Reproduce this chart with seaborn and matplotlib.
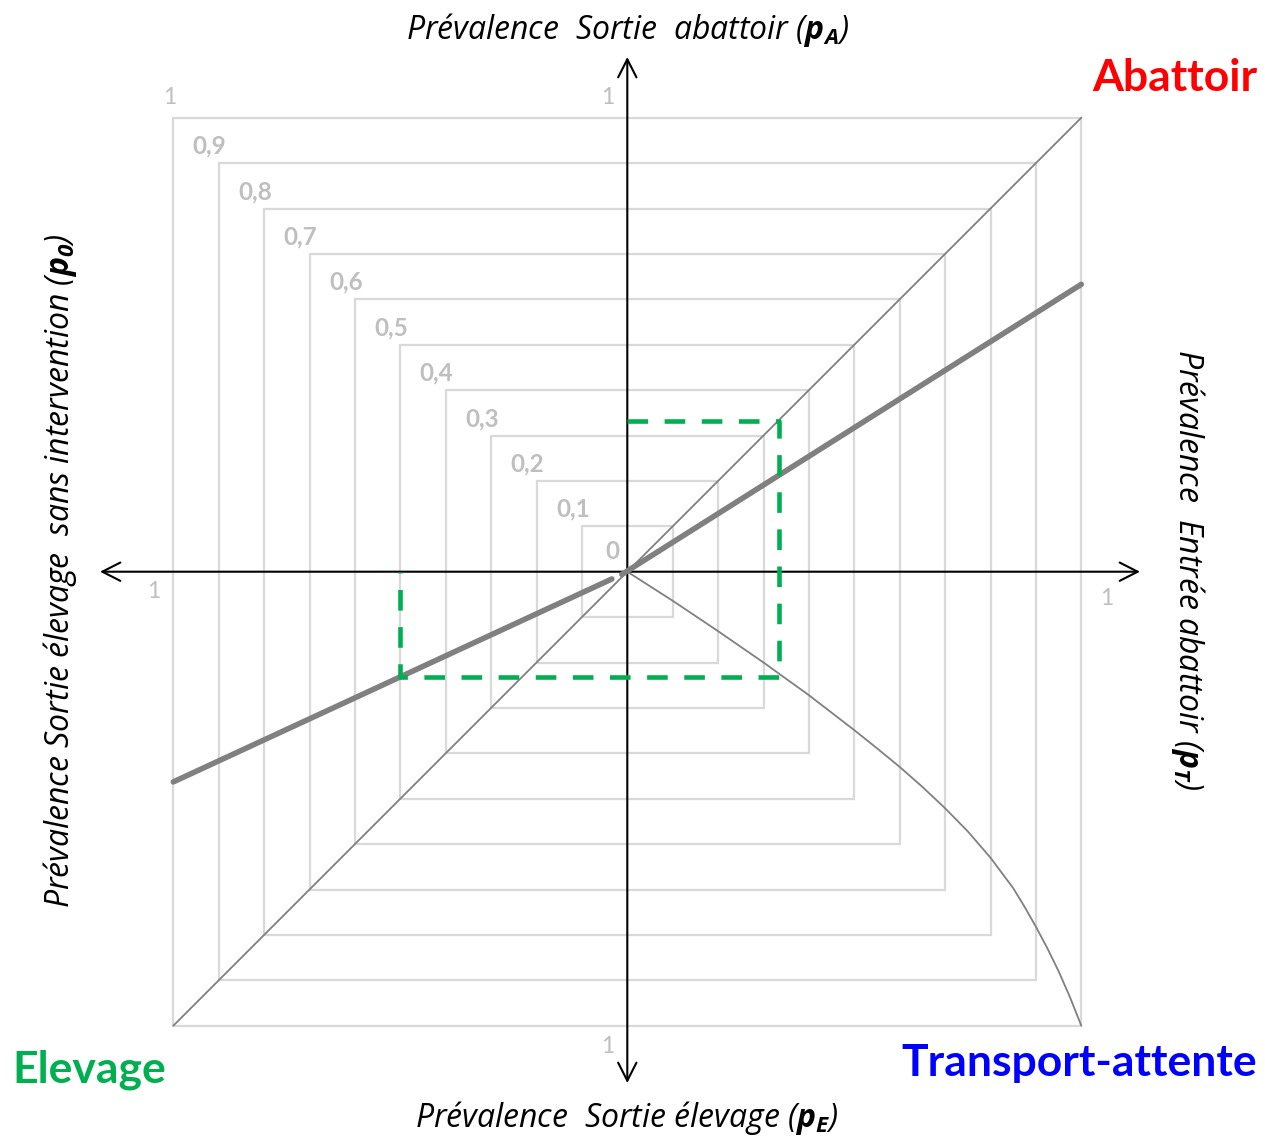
import matplotlib
matplotlib.use("Agg")
import matplotlib.pyplot as plt
import seaborn as sns
import numpy as np
import pandas as pd

# ---------------- data ----------------
levels = [0.1, 0.2, 0.3, 0.4, 0.5, 0.6, 0.7, 0.8, 0.9, 1.0]
level_labels = ["0,1", "0,2", "0,3", "0,4", "0,5", "0,6", "0,7", "0,8", "0,9", "1"]

# upper-right quadrant: pT (x) -> pA (y)
diag_pT = [0.0, 1.0]
diag_pA = [0.0, 1.0]
thick_pT = [-0.012, 1.0]
thick_pA = [-0.006, 0.633]

# lower-left quadrant: p0 (left) -> pE (down)
diag_p0 = [0.0, 1.0]
diag_pE = [0.0, 1.0]
thick_p0 = [0.034, 1.0]
thick_pE = [0.016, 0.463]

# lower-right quadrant: pT (right) -> pE (down)
curve_pT = [0.0, 0.1, 0.2, 0.3, 0.4, 0.5, 0.55, 0.6, 0.65, 0.7, 0.75, 0.8, 0.85,
            0.875, 0.9, 0.925, 0.95, 0.975, 1.0]
curve_pE = [0.0, 0.064, 0.131, 0.200, 0.272, 0.349, 0.389, 0.430, 0.474, 0.521, 0.572,
            0.630, 0.697, 0.738, 0.782, 0.829, 0.880, 0.937, 1.0]

# scenario (green dashed path)
scn_p0 = 0.5
scn_pE = 0.231
scn_pT = 0.334
scn_pA = 0.333

title_top = "Prévalence  Sortie  abattoir ($\\mathbf{p_A}$)"
title_bottom = "Prévalence  Sortie élevage ($\\mathbf{p_E}$)"
title_left = "Prévalence Sortie élevage  sans intervention ($\\mathbf{p_0}$)"
title_right = "Prévalence  Entrée abattoir ($\\mathbf{p_T}$)"

# ---------------- style ----------------
sns.set_theme(style="white")
plt.rcParams["font.family"] = ["Lato", "DejaVu Sans"]
plt.rcParams["mathtext.fontset"] = "custom"
plt.rcParams["mathtext.rm"] = "Open Sans"
plt.rcParams["mathtext.it"] = "Open Sans:italic"
plt.rcParams["mathtext.bf"] = "Open Sans:bold:italic"
plt.rcParams["text.color"] = "black"

W, H = 1265, 1141
fig = plt.figure(figsize=(W / 100, H / 100), dpi=100)
ax = fig.add_axes([0, 0, 1, 1])
cx, cy, s = 627.3, 571.7, 454.0
ax.set_xlim(-cx / s, (W - cx) / s)
ax.set_ylim(-(H - cy) / s, cy / s)
ax.axis("off")

sq_col = "#D9D9D9"
lab_col = "#BFBFBF"
line_col = "#808080"
green = "#00B050"

# squares
for v in levels:
    xs = [-v, v, v, -v, -v]
    ys = [v, v, -v, -v, v]
    ax.plot(xs, ys, color=sq_col, lw=1.6, zorder=1, solid_joinstyle="miter")

# labels of squares
px = 1.0 / s
lfs = 17.5
for v, lab in zip(levels[:-1], level_labels[:-1]):
    ax.text(-v - 26 * px, v + 17 * px, lab, color=lab_col, fontsize=lfs,
            fontweight="bold", ha="left", va="center", zorder=2)
ax.text(-15 * px, 20 * px, "0", color=lab_col, fontsize=lfs, fontweight="bold",
        ha="center", va="center", zorder=2)
ofs = 16.5
ax.text(-1 - 4 * px, 1 + 20 * px, "1", color=lab_col, fontsize=ofs, ha="center", va="center")
ax.text(-20 * px, 1 + 20 * px, "1", color=lab_col, fontsize=ofs, ha="center", va="center")
ax.text(-1 - 20 * px, -20 * px, "1", color=lab_col, fontsize=ofs, ha="center", va="center")
ax.text(1 + 25 * px, -27 * px, "1", color=lab_col, fontsize=ofs, ha="center", va="center")
ax.text(-20 * px, -1 - 21 * px, "1", color=lab_col, fontsize=ofs, ha="center", va="center")

# axes arrows
aprops = dict(arrowstyle="<->,head_length=0.65,head_width=0.33", lw=1.5, color="black",
              mutation_scale=20, shrinkA=0, shrinkB=0)
ax.annotate("", xy=((1140 - cx) / s, 0), xytext=((100 - cx) / s, 0), arrowprops=aprops, zorder=3)
ax.annotate("", xy=(0, (cy - 57) / s), xytext=(0, -(1083 - cy) / s), arrowprops=aprops, zorder=3)

# thin diagonals and curve
df_diag = pd.DataFrame({"x": diag_pT + [-p for p in diag_p0],
                        "y": diag_pA + [-p for p in diag_pE],
                        "seg": ["ur", "ur", "ll", "ll"]})
sns.lineplot(data=df_diag, x="x", y="y", units="seg", estimator=None, sort=False,
             color=line_col, lw=1.3, ax=ax, zorder=4)
df_curve = pd.DataFrame({"x": curve_pT, "y": [-p for p in curve_pE]})
sns.lineplot(data=df_curve, x="x", y="y", sort=False, estimator=None,
             color=line_col, lw=1.3, ax=ax, zorder=4)

# thick lines
df_thick = pd.DataFrame({"x": thick_pT + [-p for p in thick_p0],
                         "y": thick_pA + [-p for p in thick_pE],
                         "seg": ["ur", "ur", "ll", "ll"]})
sns.lineplot(data=df_thick, x="x", y="y", units="seg", estimator=None, sort=False,
             color=line_col, lw=4.0, ax=ax, zorder=5)

# scenario dashed path
path_x = [0, scn_pT, scn_pT, -scn_p0, -scn_p0]
path_y = [scn_pA, scn_pA, -scn_pE, -scn_pE, 0]
ax.plot(path_x, path_y, color=green, lw=3.3, dashes=(4.5, 3.6), zorder=6,
        solid_joinstyle="miter", dash_capstyle="butt")

# titles
tfam = ["Open Sans", "DejaVu Sans"]
tfs = 23
ax.text(0, (cy - 30) / s, title_top, fontsize=tfs, family=tfam, style="italic",
        color="black", ha="center", va="center")
ax.text(0, -(1118 - cy) / s, title_bottom, fontsize=tfs, family=tfam, style="italic",
        color="black", ha="center", va="center")
ax.text((60 - cx) / s, (cy - 571) / s, title_left, fontsize=tfs, family=tfam, style="italic",
        color="black", rotation=90, ha="center", va="center")
ax.text((1188 - cx) / s, (cy - 570) / s, title_right, fontsize=tfs, family=tfam, style="italic",
        color="black", rotation=-90, ha="center", va="center")

# corner labels
cfs = 32
ax.text((1257 - cx) / s, (cy - 78) / s, "Abattoir", color="#FF0000", fontsize=cfs,
        fontweight="bold", ha="right", va="center")
ax.text((12 - cx) / s, -(1070 - cy) / s, "Elevage", color=green, fontsize=cfs,
        fontweight="bold", ha="left", va="center")
ax.text((1257 - cx) / s, -(1063 - cy) / s, "Transport-attente", color="#0000FF", fontsize=cfs,
        fontweight="bold", ha="right", va="center")

fig.savefig("out.png", dpi=100)
